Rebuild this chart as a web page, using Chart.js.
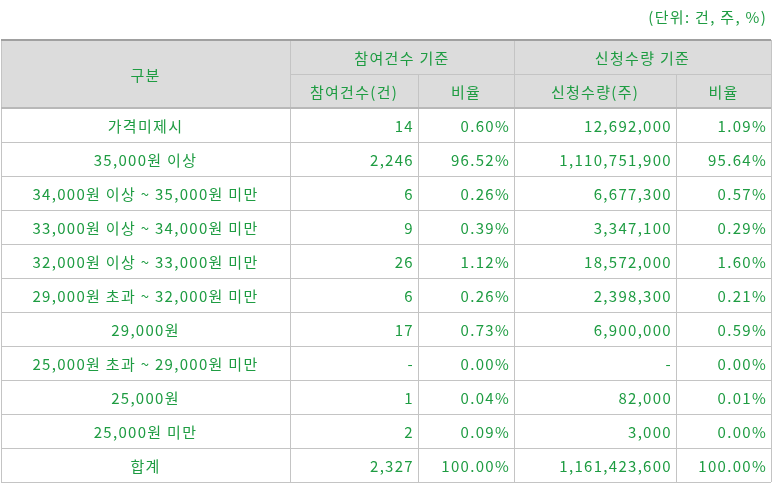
<!DOCTYPE html>
<html><head><meta charset="utf-8">
<script src="https://cdn.jsdelivr.net/npm/chart.js@4"></script>
<style>html,body{margin:0;background:#fff}#wrap{width:773px;height:487px}</style>
</head><body><div id="wrap"><canvas id="tbl"></canvas></div>
<script>
// table data
const categories = ['가격미제시','35,000원 이상','34,000원 이상 ~ 35,000원 미만','33,000원 이상 ~ 34,000원 미만',
  '32,000원 이상 ~ 33,000원 미만','29,000원 초과 ~ 32,000원 미만','29,000원','25,000원 초과 ~ 29,000원 미만',
  '25,000원','25,000원 미만','합계'];
const bidCounts = ['14','2,246','6','9','26','6','17','-','1','2','2,327'];
const bidRatios = ['0.60%','96.52%','0.26%','0.39%','1.12%','0.26%','0.73%','0.00%','0.04%','0.09%','100.00%'];
const shareCounts = ['12,692,000','1,110,751,900','6,677,300','3,347,100','18,572,000','2,398,300','6,900,000','-','82,000','3,000','1,161,423,600'];
const shareRatios = ['1.09%','95.64%','0.57%','0.29%','1.60%','0.21%','0.59%','0.00%','0.01%','0.00%','100.00%'];
const unitLabel = '(단위: 건, 주, %)';

// layout in page pixels (mapped through the linear scales)
const colEdges = [1, 290, 418, 514, 676, 771];
const tableTop = 40, rowH = 34;
const green = '#1e9c42';
const font = '15px "Noto Sans CJK KR", "Noto Sans", sans-serif';

const tablePlugin = {
  id: 'table',
  afterDraw(chart) {
    const ctx = chart.ctx, sx = chart.scales.x, sy = chart.scales.y;
    const X = v => sx.getPixelForValue(v), Y = v => sy.getPixelForValue(v);
    const rowY = i => Y(tableTop + i * rowH);
    ctx.save();
    // header background
    ctx.fillStyle = '#dcdcdc';
    ctx.fillRect(X(colEdges[0]), rowY(0), X(colEdges[5]) - X(colEdges[0]), rowY(2) - rowY(0));
    // lines
    ctx.strokeStyle = '#c4c4c4'; ctx.lineWidth = 1;
    const hl = (y, x0, x1) => { ctx.beginPath(); ctx.moveTo(x0, Math.round(y) + 0.5); ctx.lineTo(x1, Math.round(y) + 0.5); ctx.stroke(); };
    const vl = (x, y0, y1) => { ctx.beginPath(); ctx.moveTo(Math.round(x) + 0.5, y0); ctx.lineTo(Math.round(x) + 0.5, y1); ctx.stroke(); };
    const nRows = categories.length + 2;
    for (let i = 2; i <= nRows; i++) hl(rowY(i), X(colEdges[0]), X(colEdges[5]));
    hl(rowY(1), X(colEdges[1]), X(colEdges[5]));
    colEdges.forEach((c, j) => {
      const top = (j === 2 || j === 4) ? rowY(1) : rowY(0);
      vl(X(c), top, rowY(nRows));
    });
    ctx.strokeStyle = '#a0a0a0'; ctx.lineWidth = 2;
    ctx.beginPath(); ctx.moveTo(X(colEdges[0]), rowY(0)); ctx.lineTo(X(colEdges[5]), rowY(0)); ctx.stroke();
    ctx.lineWidth = 2; ctx.strokeStyle = '#b8b8b8';
    ctx.beginPath(); ctx.moveTo(X(colEdges[0]), rowY(2)); ctx.lineTo(X(colEdges[5]), rowY(2)); ctx.stroke();
    // text
    ctx.font = font; ctx.fillStyle = green; ctx.textBaseline = 'middle';
    ctx.letterSpacing = '1.3px';
    const cx = (a, b) => (X(colEdges[a]) + X(colEdges[b])) / 2;
    const mid = (a, b) => (rowY(a) + rowY(b)) / 2 + 1;
    ctx.textAlign = 'center';
    ctx.fillText('구분', cx(0, 1), mid(0, 2));
    ctx.fillText('참여건수 기준', cx(1, 3), mid(0, 1));
    ctx.fillText('신청수량 기준', cx(3, 5), mid(0, 1));
    ctx.fillText('참여건수(건)', cx(1, 2), mid(1, 2));
    ctx.fillText('비율', cx(2, 3), mid(1, 2));
    ctx.fillText('신청수량(주)', cx(3, 4), mid(1, 2));
    ctx.fillText('비율', cx(4, 5), mid(1, 2));
    const cols = [bidCounts, bidRatios, shareCounts, shareRatios];
    categories.forEach((cat, i) => {
      const y = mid(i + 2, i + 3);
      ctx.textAlign = 'center';
      ctx.fillText(cat, cx(0, 1), y);
      ctx.textAlign = 'right';
      cols.forEach((arr, j) => ctx.fillText(arr[i], X(colEdges[j + 2]) - 4, y));
    });
    ctx.textAlign = 'right';
    ctx.fillText(unitLabel, X(767), Y(17));
    ctx.restore();
  }
};

new Chart(document.getElementById('tbl'), {
  type: 'scatter',
  data: { datasets: [{ data: [] }] },
  options: {
    responsive: true,
    maintainAspectRatio: false,
    animation: false,
    layout: { padding: 0 },
    plugins: { legend: { display: false }, tooltip: { enabled: false } },
    scales: {
      x: { type: 'linear', min: 0, max: 773, display: false },
      y: { type: 'linear', min: 0, max: 487, reverse: true, display: false }
    }
  },
  plugins: [tablePlugin]
});
</script></body></html>
